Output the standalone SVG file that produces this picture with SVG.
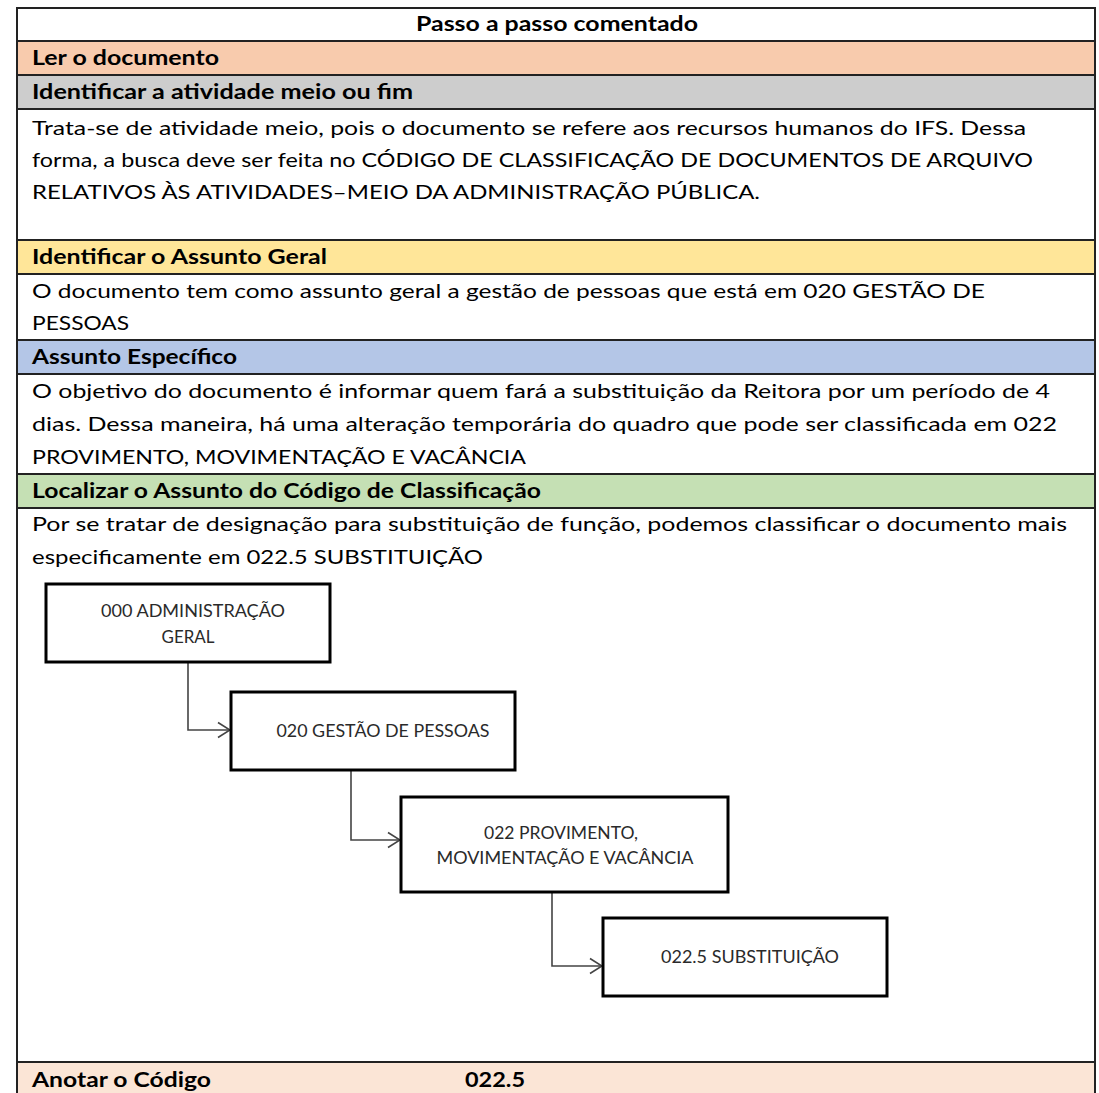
<svg xmlns="http://www.w3.org/2000/svg" width="1099" height="1093" viewBox="0 0 1099 1093">
  <style>
    .t { font-family: Lato, "Open Sans", "Liberation Sans", sans-serif; font-size: 20px; fill: #000; }
    .b { font-weight: bold; }
    .rule { stroke: #222; stroke-width: 2; }
    .box { fill: #fff; stroke: #000; stroke-width: 3; }
    .bt { font-family: Lato, "Open Sans", "Liberation Sans", sans-serif; font-size: 17.5px; fill: #2a2a2a; text-anchor: middle; }
    .conn { fill: none; stroke: #444; stroke-width: 1.6; }
  </style>
  <defs>
    <marker id="open" viewBox="0 0 14 18" refX="13" refY="9" markerWidth="14" markerHeight="18" markerUnits="userSpaceOnUse" orient="auto">
      <path d="M1 1.5 L13 9 L1 16.5" fill="none" stroke="#444" stroke-width="1.6"/>
    </marker>
  </defs>

  <rect x="0" y="0" width="1099" height="1093" fill="#fff"/>

  <!-- row backgrounds -->
  <g id="bands">
    <rect x="17" y="41" width="1078" height="34" fill="#F8CBAD"/>
    <rect x="17" y="75" width="1078" height="34" fill="#CDCDCD"/>
    <rect x="17" y="240" width="1078" height="34" fill="#FFE699"/>
    <rect x="17" y="340" width="1078" height="34" fill="#B4C6E7"/>
    <rect x="17" y="474" width="1078" height="34" fill="#C5E0B4"/>
    <rect x="17" y="1062" width="1078" height="31" fill="#FBE5D6"/>
  </g>

  <!-- table grid -->
  <g id="grid">
    <line class="rule" x1="17" y1="8" x2="1095" y2="8"/>
    <line class="rule" x1="17" y1="41" x2="1095" y2="41"/>
    <line class="rule" x1="17" y1="75" x2="1095" y2="75"/>
    <line class="rule" x1="17" y1="109" x2="1095" y2="109"/>
    <line class="rule" x1="17" y1="240" x2="1095" y2="240"/>
    <line class="rule" x1="17" y1="274" x2="1095" y2="274"/>
    <line class="rule" x1="17" y1="340" x2="1095" y2="340"/>
    <line class="rule" x1="17" y1="374" x2="1095" y2="374"/>
    <line class="rule" x1="17" y1="474" x2="1095" y2="474"/>
    <line class="rule" x1="17" y1="508" x2="1095" y2="508"/>
    <line class="rule" x1="17" y1="1062" x2="1095" y2="1062"/>
    <line class="rule" x1="17" y1="7" x2="17" y2="1093"/>
    <line class="rule" x1="1095" y1="7" x2="1095" y2="1093"/>
  </g>

  <!-- table texts -->
  <g id="texts">
    <text class="t b" x="557" y="31" text-anchor="middle" textLength="282" lengthAdjust="spacingAndGlyphs">Passo a passo comentado</text>
    <text class="t b" x="32" y="65" textLength="187" lengthAdjust="spacingAndGlyphs">Ler o documento</text>
    <text class="t b" x="32" y="99" textLength="381" lengthAdjust="spacingAndGlyphs">Identificar a atividade meio ou fim</text>
    <text class="t" x="32" y="135" textLength="994" lengthAdjust="spacingAndGlyphs">Trata-se de atividade meio, pois o documento se refere aos recursos humanos do IFS. Dessa</text>
    <text class="t" x="32" y="167" textLength="1001" lengthAdjust="spacingAndGlyphs">forma, a busca deve ser feita no CÓDIGO DE CLASSIFICAÇÃO DE DOCUMENTOS DE ARQUIVO</text>
    <text class="t" x="32" y="199" textLength="728" lengthAdjust="spacingAndGlyphs">RELATIVOS ÀS ATIVIDADES–MEIO DA ADMINISTRAÇÃO PÚBLICA.</text>
    <text class="t b" x="32" y="264" textLength="295" lengthAdjust="spacingAndGlyphs">Identificar o Assunto Geral</text>
    <text class="t" x="32" y="298" textLength="953" lengthAdjust="spacingAndGlyphs">O documento tem como assunto geral a gestão de pessoas que está em 020 GESTÃO DE</text>
    <text class="t" x="32" y="330" textLength="97" lengthAdjust="spacingAndGlyphs">PESSOAS</text>
    <text class="t b" x="32" y="364" textLength="205" lengthAdjust="spacingAndGlyphs">Assunto Específico</text>
    <text class="t" x="32" y="398" textLength="1018" lengthAdjust="spacingAndGlyphs">O objetivo do documento é informar quem fará a substituição da Reitora por um período de 4</text>
    <text class="t" x="32" y="431" textLength="1025" lengthAdjust="spacingAndGlyphs">dias. Dessa maneira, há uma alteração temporária do quadro que pode ser classificada em 022</text>
    <text class="t" x="32" y="464" textLength="494" lengthAdjust="spacingAndGlyphs">PROVIMENTO, MOVIMENTAÇÃO E VACÂNCIA</text>
    <text class="t b" x="32" y="498" textLength="509" lengthAdjust="spacingAndGlyphs">Localizar o Assunto do Código de Classificação</text>
    <text class="t" x="32" y="531" textLength="1035" lengthAdjust="spacingAndGlyphs">Por se tratar de designação para substituição de função, podemos classificar o documento mais</text>
    <text class="t" x="32" y="564" textLength="451" lengthAdjust="spacingAndGlyphs">especificamente em 022.5 SUBSTITUIÇÃO</text>
    <text class="t b" x="32" y="1087" textLength="179" lengthAdjust="spacingAndGlyphs">Anotar o Código</text>
    <text class="t b" x="465" y="1087" textLength="60" lengthAdjust="spacingAndGlyphs">022.5</text>
  </g>

  <!-- hierarchy connectors -->
  <g id="connectors">
    <path class="conn" d="M188 663 V730 H230" marker-end="url(#open)"/>
    <path class="conn" d="M351 771 V840 H400" marker-end="url(#open)"/>
    <path class="conn" d="M552 893 V966 H602" marker-end="url(#open)"/>
  </g>

  <!-- hierarchy nodes -->
  <g id="node-000">
    <rect class="box" x="46" y="584" width="284" height="78"/>
    <text class="bt" x="193" y="617" textLength="184" lengthAdjust="spacingAndGlyphs">000 ADMINISTRAÇÃO</text>
    <text class="bt" x="188" y="643" textLength="53" lengthAdjust="spacingAndGlyphs">GERAL</text>
  </g>
  <g id="node-020">
    <rect class="box" x="231" y="692" width="284" height="78"/>
    <text class="bt" x="383" y="737" textLength="213" lengthAdjust="spacingAndGlyphs">020 GESTÃO DE PESSOAS</text>
  </g>
  <g id="node-022">
    <rect class="box" x="401" y="797" width="327" height="95"/>
    <text class="bt" x="561" y="839" textLength="154" lengthAdjust="spacingAndGlyphs">022 PROVIMENTO,</text>
    <text class="bt" x="565" y="864" textLength="257" lengthAdjust="spacingAndGlyphs">MOVIMENTAÇÃO E VACÂNCIA</text>
  </g>
  <g id="node-0225">
    <rect class="box" x="603" y="918" width="284" height="78"/>
    <text class="bt" x="750" y="963" textLength="178" lengthAdjust="spacingAndGlyphs">022.5 SUBSTITUIÇÃO</text>
  </g>
</svg>
